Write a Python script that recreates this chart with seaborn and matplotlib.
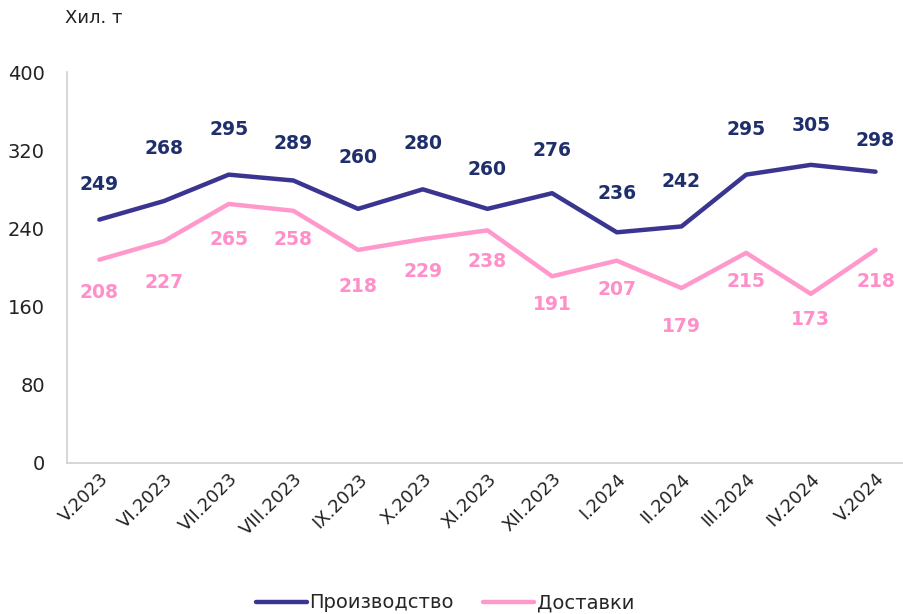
import matplotlib
matplotlib.use("Agg")
import matplotlib.pyplot as plt
import seaborn as sns
import pandas as pd

months = ["V.2023", "VI.2023", "VII.2023", "VIII.2023", "IX.2023", "X.2023",
          "XI.2023", "XII.2023", "I.2024", "II.2024", "III.2024", "IV.2024", "V.2024"]
production = [249, 268, 295, 289, 260, 280, 260, 276, 236, 242, 295, 305, 298]
deliveries = [208, 227, 265, 258, 218, 229, 238, 191, 207, 179, 215, 173, 218]

# label offsets in pixels (as placed in the original)
prod_off = [35, 53, 45, 37, 51, 46, 39, 43, 39, 45, 45, 39, 31]
deliv_off = [33, 41, 36, 29, 37, 32, 31, 28, 29, 38, 29, 26, 32]

blue = "#3a3591"
blue_lbl = "#1f2f6b"
pink = "#ff99cc"
pink_lbl = "#ff8fc8"

sns.set_theme(style="white")
plt.rcParams["font.family"] = ["DejaVu Sans"]

df = pd.DataFrame({"x": range(len(months)), "Производство": production, "Доставки": deliveries})
long = df.melt(id_vars="x", var_name="series", value_name="value")

fig = plt.figure(figsize=(9.04, 6.14), dpi=100)
ax = fig.add_axes([67 / 904, 1 - 463 / 614, (904 - 67) / 904, (463 - 72) / 614])

sns.lineplot(data=long, x="x", y="value", hue="series",
             palette={"Производство": blue, "Доставки": pink},
             linewidth=3.2, ax=ax, legend=False)

# data labels: production above, deliveries below
for i, v in enumerate(production):
    ax.annotate(str(v), (i, v), xytext=(0, prod_off[i]), textcoords="offset pixels",
                ha="center", va="center", fontsize=13.5, fontweight="bold", color=blue_lbl)
for i, v in enumerate(deliveries):
    ax.annotate(str(v), (i, v), xytext=(0, -deliv_off[i]), textcoords="offset pixels",
                ha="center", va="center", fontsize=13.5, fontweight="bold", color=pink_lbl)

ax.set_xlim(-0.5, 12.44)
ax.set_ylim(0, 400)
ax.set_yticks([0, 80, 160, 240, 320, 400])
ax.set_xticks(range(len(months)))
ax.set_xticklabels(months, rotation=45, ha="right", rotation_mode="anchor")
ax.tick_params(axis="x", labelsize=13, pad=5, length=0, colors="#222222")
ax.tick_params(axis="y", labelsize=14, pad=16, length=0, colors="#222222")
ax.set_xlabel("")
ax.set_ylabel("")

for s in ["top", "right"]:
    ax.spines[s].set_visible(False)
for s in ["left", "bottom"]:
    ax.spines[s].set_color("#d0d0d0")
    ax.spines[s].set_linewidth(1.2)

fig.text(65 / 904, 1 - 18 / 614, "Хил. т", fontsize=13, color="#222222", va="center", ha="left")

handles = [plt.Line2D([], [], color=blue, lw=3.2), plt.Line2D([], [], color=pink, lw=3.2)]
fig.legend(handles, ["Производство", "Доставки"], loc="center", bbox_to_anchor=(445 / 904, 1 - 603 / 614),
           ncol=2, frameon=False, fontsize=14, handlelength=2.6, handletextpad=0.15, columnspacing=1.5)

fig.savefig("out.png", dpi=100)
